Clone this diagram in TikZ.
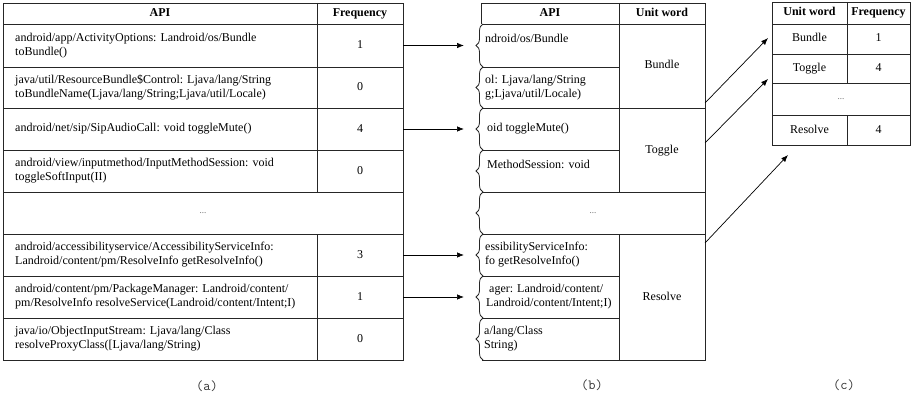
\documentclass[tikz,border=0pt]{standalone}
\usepackage{fontspec}
\setmainfont{Liberation Serif}
\usetikzlibrary{arrows.meta,decorations.pathreplacing}

\tikzset{
  cell/.style={font=\fontsize{12}{14}\selectfont, align=left, anchor=west, inner sep=0pt},
  num/.style={font=\fontsize{12}{14}\selectfont, inner sep=0pt, text height=8.5pt, text depth=2.5pt},
  head/.style={font=\fontsize{12}{14}\selectfont\bfseries, inner sep=0pt, text height=8.5pt, text depth=2.5pt},
  dots/.style={font=\fontsize{9}{10}\selectfont, text=black!60, inner sep=0pt},
  grid/.style={line width=0.8pt, black!85},
  wave/.style={line width=0.8pt, black!85, decorate, decoration={brace, amplitude=7pt}},
  link/.style={line width=0.7pt, -{Latex[length=7pt,width=5.5pt]}},
  caption/.style={font=\fontsize{14}{16}\ttfamily, text=black!80, inner sep=0pt}
}

\begin{document}
\begin{tikzpicture}[x=1pt,y=-1pt]
        \useasboundingbox (0,0) rectangle (911,396);

        % Table (a)
        \draw[grid] (3,3) rectangle (403,360);
        \draw[grid] (317,3) -- (317,192) (317,234) -- (317,360);
        \foreach \y in {24,67,108,150,192,234,276,318}
            \draw[grid] (3,\y) -- (403,\y);
        \node[head] (aapi) at (160,13.5) {API};
        \node[head] (afreq) at (360,13.5) {Frequency};
        \node[cell] (a1) at (15,45.5) {android/app/ActivityOptions: Landroid/os/Bundle\\toBundle()};
        \node[cell] (a2) at (15,87.5) {java/util/ResourceBundle\$Control: Ljava/lang/String\\toBundleName(Ljava/lang/String;Ljava/util/Locale)};
        \node[cell] (a3) at (15,129) {android/net/sip/SipAudioCall: void toggleMute()};
        \node[cell] (a4) at (15,171) {android/view/inputmethod/InputMethodSession: void\\toggleSoftInput(II)};
        \node[dots] (adots) at (203,213) {...};
        \node[cell] (a6) at (15,255) {android/accessibilityservice/AccessibilityServiceInfo:\\Landroid/content/pm/ResolveInfo getResolveInfo()};
        \node[cell] (a7) at (15,297) {android/content/pm/PackageManager: Landroid/content/\\pm/ResolveInfo resolveService(Landroid/content/Intent;I)};
        \node[cell] (a8) at (15,339) {java/io/ObjectInputStream: Ljava/lang/Class\\resolveProxyClass([Ljava/lang/String)};
        \node[num] (f1) at (360,45.5) {1};
        \node[num] (f2) at (360,87.5) {0};
        \node[num] (f3) at (360,129) {4};
        \node[num] (f4) at (360,171) {0};
        \node[num] (f6) at (360,255) {3};
        \node[num] (f7) at (360,297) {1};
        \node[num] (f8) at (360,339) {0};
        \node[caption] (capa) at (207,386) {(a)};

        % Table (b)
        \draw[grid] (481,24) -- (481,3) -- (705,3) -- (705,360) -- (482,360);
        \draw[grid] (619,3) -- (619,192) (619,234) -- (619,360);
        \foreach \y in {24,108,192,234}
            \draw[grid] (482,\y) -- (705,\y);
        \foreach \y in {67,150,276,318}
            \draw[grid] (482,\y) -- (619,\y);
        \foreach \t/\b in {24/67,67/108,108/150,150/192,192/234,234/276,276/318,318/360}
            \draw[wave] (483,\b) -- (483,\t);
        \node[head] (bapi) at (550,13.5) {API};
        \node[head] (bunit) at (662,13.5) {Unit word};
        \node[cell] (b1) at (485,38.5) {ndroid/os/Bundle};
        \node[cell] (b2) at (485,87.5) {ol: Ljava/lang/String\\g;Ljava/util/Locale)};
        \node[cell] (b3) at (487,129) {oid toggleMute()};
        \node[cell] (b4) at (487,164) {MethodSession: void};
        \node[dots] (bdots) at (593,213) {...};
        \node[cell] (b6) at (485,255) {essibilityServiceInfo:\\fo getResolveInfo()};
        \node[cell] (b7) at (486,297) {\hspace*{3pt}ager: Landroid/content/\\Landroid/content/Intent;I)};
        \node[cell] (b8) at (484,339) {a/lang/Class\\String)};
        \node[num] (ubundle) at (662,66) {Bundle};
        \node[num] (utoggle) at (662,150) {Toggle};
        \node[num] (uresolve) at (662,297) {Resolve};
        \node[caption] (capb) at (592,385) {(b)};

        % Table (c)
        \draw[grid] (772,2) rectangle (910,145);
        \draw[grid] (847,2) -- (847,83) (847,115) -- (847,145);
        \foreach \y in {24,54,83,115}
            \draw[grid] (772,\y) -- (910,\y);
        \node[head] (cunit) at (809.5,13) {Unit word};
        \node[head] (cfreq) at (878.5,13) {Frequency};
        \node[num] (cbundle) at (809.5,39) {Bundle};
        \node[num] (cf1) at (878.5,39) {1};
        \node[num] (ctoggle) at (809.5,68.5) {Toggle};
        \node[num] (cf2) at (878.5,68.5) {4};
        \node[dots] (cdots) at (841,99) {...};
        \node[num] (cresolve) at (809.5,130) {Resolve};
        \node[num] (cf3) at (878.5,130) {4};
        \node[caption] (capc) at (844,385) {(c)};

        % Arrows
        \foreach \n/\y in {1/45.5,3/129,6/255,7/297} {
            \coordinate (out\n) at (403,\y);
            \coordinate (in\n) at (464,\y);
            \draw[link] (out\n) -- (in\n);
        }
        \coordinate (ub) at (705,103);
        \coordinate (ut) at (705,143);
        \coordinate (ur) at (705,243);
        \coordinate (cb) at (768,38);
        \coordinate (ct) at (768,79);
        \coordinate (cr) at (788,155);
        \draw[link] (ub) -- (cb);
        \draw[link] (ut) -- (ct);
        \draw[link] (ur) -- (cr);
    \end{tikzpicture}
\end{document}
